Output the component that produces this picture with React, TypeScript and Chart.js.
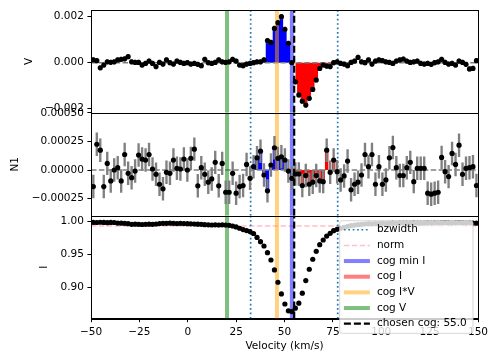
import React, { useEffect, useRef } from "react";
import { Chart, registerables } from "chart.js";

Chart.register(...registerables);

// ---------------- data ----------------
const velocity = [
  -48.8, -47.0, -45.2, -43.4, -41.6, -39.8, -38.0, -36.2, -34.4, -32.6,
  -30.8, -29.0, -27.2, -25.4, -23.6, -21.8, -20.0, -18.2, -16.4, -14.6,
  -12.8, -11.0, -9.2, -7.4, -5.6, -3.8, -2.0, -0.2, 1.6, 3.4,
  5.2, 7.0, 8.8, 10.6, 12.4, 14.2, 16.0, 17.8, 19.6, 21.4,
  23.2, 25.0, 26.8, 28.6, 30.4, 32.2, 34.0, 35.8, 37.6, 39.4,
  41.2, 43.0, 44.8, 46.6, 48.4, 50.2, 52.0, 53.8, 55.6, 57.4,
  59.2, 61.0, 62.8, 64.6, 66.4, 68.2, 70.0, 71.8, 73.6, 75.4,
  77.2, 79.0, 80.8, 82.6, 84.4, 86.2, 88.0, 89.8, 91.6, 93.4,
  95.2, 97.0, 98.8, 100.6, 102.4, 104.2, 106.0, 107.8, 109.6, 111.4,
  113.2, 115.0, 116.8, 118.6, 120.4, 122.2, 124.0, 125.8, 127.6, 129.4,
  131.2, 133.0, 134.8, 136.6, 138.4, 140.2, 142.0, 143.8, 145.6, 147.4,
  149.2,
];

const stokesV = [
  0.00012, 0.00009, -0.00022, -0.0001, 0.00004, 0.000015, 0.00004, 0.00012, 0.000145, 0.00017,
  0.00026, 0.00004, 0.00001, 0.00001, -0.0001, -0.00003, 0.00007, -0.00003, -0.00017, 0.00001,
  -0.00006, 0.00012, 0.0, -0.00006, 0.00007, 0.00001, -0.00003, 0.0, -0.00006, -0.00003,
  -0.00007, -0.00013, 0.000145, 0.0, -0.00003, 0.00001, 0.00012, 0.00004, 0.00001, 0.00004,
  0.000145, 0.00007, -0.0001, -0.00013, -0.00006, -0.00003, 0.0, 0.00004, 0.00004, 0.00012,
  0.00096, 0.00088, 0.00149, 0.00174, 0.002, 0.00145, 0.00084, 0.0, -0.00083, -0.0014,
  -0.00167, -0.00184, -0.00155, -0.00116, -0.00075, -0.00025, -0.0001, -0.000145, -0.00017, 0.0,
  0.00004, -0.00003, -0.00006, -0.00013, 0.00001, 0.00007, 0.00023, 0.00004, 0.0, 0.00012,
  -0.00006, 0.00007, 0.00012, 0.00009, 0.00004, 0.00001, -0.00003, 0.00007, 0.00012, 0.00016,
  0.00007, 0.00001, 0.00004, 0.00007, -0.00003, -0.00006, -0.00003, -0.00007, 0.0, 0.00004,
  0.000145, 0.00001, -0.00006, -0.00003, -0.0001, 0.00007, 0.00001, -0.00007, -0.00027, -0.00025,
  0.00009,
];

const nullN1 = [
  -0.000145, 0.000226, 0.000174, -0.000145, 0.000058, -0.000096, 0.0, 0.00002, -0.000096, 0.000136,
  -0.000029, -0.000067, -0.000009, 0.000131, 0.000096, 0.000087, 0.000136, 0.000009, -0.000038, -0.000125,
  -0.000165, -0.00002, -0.000029, 0.000087, 0.000015, 0.000009, 0.000096, 0.0, 0.000102, 0.000183,
  -0.000139, 0.00002, -0.000038, -0.000107, -0.000078, 0.000067, -0.000139, 0.000058, -0.000195, -0.000195,
  -0.000029, -0.000203, -0.000145, -0.000136, 0.000049, -0.000073, 0.000029, 0.000107, 0.000165, -0.000044,
  -0.000183, 0.000044, 0.000195, 0.000102, 0.000116, 0.000087, -0.000009, -0.000073, -0.000035, -0.000035,
  -0.000136, -0.000049, -0.000125, -0.000107, -0.000049, -0.000096, -0.000102, 0.000174, -0.00002, 0.000087,
  -0.000015, -0.000087, -0.000052, 0.000078, -0.000174, -0.000125, -0.000107, -0.000044, 0.000136, 0.000029,
  0.000136, -0.000125, 0.000029, -0.000125, -0.000087, 0.000107, 0.000197, 0.00002, -0.000049, -0.000049,
  0.00002, 0.000067, -0.000102, 0.000015, 0.000015, 0.000015, -0.000203, -0.000212, -0.000203, -0.000195,
  0.00011, -0.000015, -0.000058, 0.000145, 0.000049, 0.000218, -0.000038, 0.000015, 0.00002, 0.000029,
  -0.000136,
];

const intensity = [
  0.999, 0.9988, 0.9992, 0.999, 0.9985, 0.999, 0.9988, 0.998, 0.9978, 0.9975,
  0.997, 0.996, 0.9962, 0.996, 0.9958, 0.996, 0.9962, 0.996, 0.9965, 0.9972,
  0.9975, 0.9975, 0.9978, 0.9975, 0.9972, 0.9975, 0.9972, 0.997, 0.9968, 0.9965,
  0.9962, 0.996, 0.9955, 0.9952, 0.995, 0.9952, 0.995, 0.9952, 0.995, 0.9945,
  0.9935, 0.992, 0.99, 0.988, 0.9865, 0.985, 0.982, 0.976, 0.9695, 0.9628,
  0.9526, 0.9414, 0.9261, 0.9073, 0.8894, 0.874, 0.8635, 0.8624, 0.8675, 0.8752,
  0.8905, 0.9098, 0.9272, 0.9425, 0.9547, 0.9649, 0.972, 0.9781, 0.9822, 0.9863,
  0.9884, 0.99, 0.9915, 0.993, 0.994, 0.995, 0.9955, 0.996, 0.9965, 0.997,
  0.9968, 0.9972, 0.997, 0.9975, 0.9972, 0.9975, 0.9978, 0.9975, 0.9978, 0.998,
  0.9978, 0.998, 0.9982, 0.998, 0.9978, 0.998, 0.9982, 0.998, 0.9983, 0.998,
  0.9982, 0.9985, 0.9982, 0.998, 0.9983, 0.9985, 0.9982, 0.998, 0.9983, 0.998,
  0.9978,
];

const sigmaV = 0.0001;
const sigmaN1 = 0.0001;
const normLevel = 0.9934;

const cogMinI = 53.8;
const cogIV = 46.1;
const cogV = 20.3;
const chosenCog = 55.0;
const bzHalfWidth = 22.5;
// cog I falls outside the plotted window, so only its legend entry shows
const cogI: number | null = null;

const xTicks = [-50, -25, 0, 25, 50, 75, 100, 125, 150];
const vTicks = [-0.002, 0.0, 0.002];
const n1Ticks = [-0.00025, 0.0, 0.00025, 0.0005];
const iTicks = [0.9, 0.95, 1.0];

const xRange = { min: -50, max: 150 };
const vRange = { min: -0.00218, max: 0.00229 };
const n1Range = { min: -0.000401, max: 0.000501 };
const iRange = { min: 0.8516, max: 1.0092 };

// ---------------- styling ----------------
const FONT_FAMILY = "'DejaVu Sans', sans-serif";
const FONT_SIZE = 10.5;
const TICK_LEN = 3.6;
const TICK_PAD = 3.5;

const C_BZ = "#1f77b4";
const C_NORM = "#ffc0cb";
const C_MINI = "rgba(0,0,255,0.5)";
const C_COGI = "rgba(255,0,0,0.5)";
const C_COGIV = "rgba(255,165,0,0.5)";
const C_COGV = "rgba(0,128,0,0.5)";

const minus = (s: string) => s.replace("-", "\u2212");

const fmtV = (v: number) => minus(v.toFixed(3));
const fmtN = (v: number) => minus(v.toFixed(5));
const fmtI = (v: number) => minus(v.toFixed(2));
const fmtX = (v: number) => minus(String(v));

const ranges: Record<string, { min: number; max: number }> = {
  yV: vRange,
  yN: n1Range,
  yI: iRange,
};

function App() {
  const ref = useRef<HTMLCanvasElement | null>(null);

  useEffect(() => {
    const canvas = ref.current;
    if (!canvas) return;

    const pts = (ys: number[]) => velocity.map((x, i) => ({ x, y: ys[i] }));
    const errs = (ys: number[], s: number) =>
      velocity.map((x, i) => ({ x, y: [ys[i] - s, ys[i] + s] }));
    const lo = chosenCog - bzHalfWidth;
    const hi = chosenCog + bzHalfWidth;
    const part = (ys: number[], a: number, b: number) =>
      velocity
        .map((x, i) => ({ x, y: ys[i] }))
        .filter((p) => p.x >= a && p.x <= b);

    const fillDs = (ys: number[], a: number, b: number, color: string, axis: string) => ({
      type: "line",
      data: part(ys, a, b),
      yAxisID: axis,
      stepped: "middle",
      fill: "origin",
      backgroundColor: color,
      borderWidth: 0,
      borderColor: "rgba(0,0,0,0)",
      pointRadius: 0,
      order: 60,
    });

    const hLine = (y: number, axis: string, color: string, width: number, dash: number[], order: number) => ({
      type: "line",
      data: [
        { x: xRange.min, y },
        { x: xRange.max, y },
      ],
      yAxisID: axis,
      borderColor: color,
      borderWidth: width,
      borderDash: dash,
      pointRadius: 0,
      fill: false,
      order,
    });

    const vLine = (x: number, axis: string, color: string, width: number, dash: number[], order: number) => ({
      type: "line",
      data: [
        { x, y: ranges[axis].min },
        { x, y: ranges[axis].max },
      ],
      yAxisID: axis,
      borderColor: color,
      borderWidth: width,
      borderDash: dash,
      borderCapStyle: "butt",
      pointRadius: 0,
      fill: false,
      order,
    });

    const errDs = (ys: number[], s: number, axis: string) => ({
      type: "bar",
      data: errs(ys, s),
      yAxisID: axis,
      backgroundColor: "#808080",
      borderWidth: 0,
      barThickness: 1.7,
      grouped: false,
      order: 30,
    });

    const ptDs = (ys: number[], axis: string) => ({
      type: "line",
      data: pts(ys),
      yAxisID: axis,
      showLine: false,
      pointRadius: 2.6,
      pointBackgroundColor: "#000",
      pointBorderWidth: 0,
      borderColor: "#000",
      order: 20,
    });

    const datasets: any[] = [];
    for (const axis of ["yV", "yN"]) {
      const ys = axis === "yV" ? stokesV : nullN1;
      datasets.push(fillDs(ys, lo, chosenCog, "#0000ff", axis));
      datasets.push(fillDs(ys, chosenCog, hi, "#ff0000", axis));
      datasets.push(hLine(0, axis, "#808080", 1.5, [5.5, 2.4], 55));
      datasets.push(errDs(ys, axis === "yV" ? sigmaV : sigmaN1, axis));
      datasets.push(ptDs(ys, axis));
    }
    datasets.push(hLine(normLevel, "yI", C_NORM, 1.5, [5.5, 2.4], 55));
    datasets.push(ptDs(intensity, "yI"));

    for (const axis of ["yV", "yN", "yI"]) {
      datasets.push(vLine(lo, axis, C_BZ, 1.7, [1.7, 2.7], 40));
      datasets.push(vLine(hi, axis, C_BZ, 1.7, [1.7, 2.7], 40));
      datasets.push(vLine(cogMinI, axis, C_MINI, 4, [], 41));
      if (cogI !== null) datasets.push(vLine(cogI, axis, C_COGI, 4, [], 42));
      datasets.push(vLine(cogIV, axis, C_COGIV, 4, [], 41));
      datasets.push(vLine(cogV, axis, C_COGV, 4, [], 41));
      datasets.push(vLine(chosenCog, axis, "#000", 2.2, [7, 3], 10));
    }

    const font = { family: FONT_FAMILY, size: FONT_SIZE };
    const fontStr = `${FONT_SIZE}px ${FONT_FAMILY}`;

    const yAxis = (id: string, ticks: number[], fmt: (v: number) => string, weight: number) => ({
      type: "linear",
      position: "left",
      stack: "panels",
      stackWeight: 1,
      weight,
      min: ranges[id].min,
      max: ranges[id].max,
      afterBuildTicks: (s: any) => {
        s.ticks = ticks.map((value) => ({ value }));
      },
      afterFit: (s: any) => {
        s.width = 91;
      },
      ticks: {
        font,
        color: "#000",
        padding: TICK_PAD,
        autoSkip: false,
        callback: (v: any) => fmt(Number(v)),
      },
      grid: {
        drawOnChartArea: false,
        drawTicks: true,
        tickLength: TICK_LEN,
        color: "#000",
        lineWidth: 1,
      },
      border: { display: true, color: "#000", width: 1 },
    });

    const fmts: Record<string, (v: number) => string> = { yV: fmtV, yN: fmtN, yI: fmtI };
    const titles: Record<string, string> = { yV: "V", yN: "N1", yI: "I" };

    const framePlugin = {
      id: "frames",
      afterDatasetsDraw(chart: any) {
        const { ctx, chartArea } = chart;
        ctx.save();
        ctx.strokeStyle = "#000";
        ctx.lineWidth = 1;
        for (const id of ["yV", "yN", "yI"]) {
          const s = chart.scales[id];
          const l = Math.round(chartArea.left) + 0.5;
          const r = Math.round(chartArea.right) + 0.5;
          const t = Math.round(s.top) + 0.5;
          const b = Math.round(s.bottom) + 0.5;
          ctx.strokeRect(l, t, r - l, b - t);
        }
        // y titles
        ctx.fillStyle = "#000";
        ctx.font = fontStr;
        for (const id of ["yV", "yN", "yI"]) {
          const s = chart.scales[id];
          const f = fmts[id];
          let maxW = 0;
          for (const t of s.ticks) maxW = Math.max(maxW, ctx.measureText(f(t.value)).width);
          const cx = s.right - TICK_LEN - TICK_PAD - maxW - 16;
          const cy = (s.top + s.bottom) / 2;
          ctx.save();
          ctx.translate(cx, cy);
          ctx.rotate(-Math.PI / 2);
          ctx.textAlign = "center";
          ctx.textBaseline = "middle";
          ctx.fillText(titles[id], 0, 0);
          ctx.restore();
        }
        ctx.restore();
      },
    };

    const legendItems = [
      { label: "bzwidth", color: C_BZ, width: 1.7, dash: [1.7, 2.7] },
      { label: "norm", color: C_NORM, width: 1.5, dash: [5.5, 2.4] },
      { label: "cog min I", color: C_MINI, width: 4, dash: [] },
      { label: "cog I", color: C_COGI, width: 4, dash: [] },
      { label: "cog I*V", color: C_COGIV, width: 4, dash: [] },
      { label: "cog V", color: C_COGV, width: 4, dash: [] },
      { label: `chosen cog: ${chosenCog.toFixed(1)}`, color: "#000", width: 2.2, dash: [7, 3] },
    ];

    const legendPlugin = {
      id: "mplLegend",
      afterDraw(chart: any) {
        const { ctx, chartArea } = chart;
        const sI = chart.scales.yI;
        ctx.save();
        ctx.font = fontStr;
        let maxW = 0;
        for (const it of legendItems) maxW = Math.max(maxW, ctx.measureText(it.label).width);
        const pad = 4.2;
        const handleLen = 26;
        const handlePad = 7;
        const rowH = 15.66;
        const w = pad + handleLen + handlePad + maxW + pad + 2;
        const h = rowH * legendItems.length + 3;
        const right = chartArea.right - 5;
        const left = right - w;
        const top = sI.top + 5;
        ctx.beginPath();
        ctx.roundRect(left, top, w, h, 2.5);
        ctx.fillStyle = "rgba(255,255,255,0.8)";
        ctx.fill();
        ctx.strokeStyle = "rgba(204,204,204,0.8)";
        ctx.lineWidth = 1;
        ctx.stroke();
        legendItems.forEach((it, k) => {
          const cy = top + 9 + k * rowH;
          ctx.beginPath();
          ctx.setLineDash(it.dash);
          ctx.lineCap = "butt";
          ctx.strokeStyle = it.color;
          ctx.lineWidth = it.width;
          ctx.moveTo(left + pad, cy);
          ctx.lineTo(left + pad + handleLen, cy);
          ctx.stroke();
          ctx.setLineDash([]);
          ctx.fillStyle = "#000";
          ctx.textAlign = "left";
          ctx.textBaseline = "middle";
          ctx.fillText(it.label, left + pad + handleLen + handlePad, cy);
        });
        ctx.restore();
      },
    };

    const chart = new Chart(canvas, {
      type: "line",
      data: { datasets },
      options: {
        animation: false,
        responsive: false,
        devicePixelRatio: 1,
        events: [],
        layout: { padding: { left: 0, right: 20, top: 10, bottom: 0 } },
        plugins: { legend: { display: false }, tooltip: { enabled: false } },
        scales: {
          x: {
            type: "linear",
            position: "bottom",
            min: xRange.min,
            max: xRange.max,
            offset: false,
            afterBuildTicks: (s: any) => {
              s.ticks = xTicks.map((value) => ({ value }));
            },
            afterFit: (s: any) => {
              s.height = 44.4;
            },
            ticks: {
              font,
              color: "#000",
              padding: TICK_PAD,
              autoSkip: false,
              maxRotation: 0,
              callback: (v: any) => fmtX(Number(v)),
            },
            grid: {
              offset: false,
              drawOnChartArea: false,
              drawTicks: true,
              tickLength: TICK_LEN,
              color: "#000",
              lineWidth: 1,
            },
            border: { display: true, color: "#000", width: 1 },
            title: {
              display: true,
              text: "Velocity (km/s)",
              font,
              color: "#000",
              padding: { top: 2, bottom: 10 },
            },
          },
          yV: yAxis("yV", vTicks, fmtV, 3),
          yN: yAxis("yN", n1Ticks, fmtN, 2),
          yI: yAxis("yI", iTicks, fmtI, 1),
        } as any,
      } as any,
      plugins: [framePlugin, legendPlugin],
    } as any);

    return () => chart.destroy();
  }, []);

  return (
    <div style={{ position: "fixed", left: 0, top: 0, width: 498, height: 363, background: "#fff" }}>
      <canvas ref={ref} width={498} height={363} style={{ display: "block", width: 498, height: 363 }} />
    </div>
  );
}

export default App;
